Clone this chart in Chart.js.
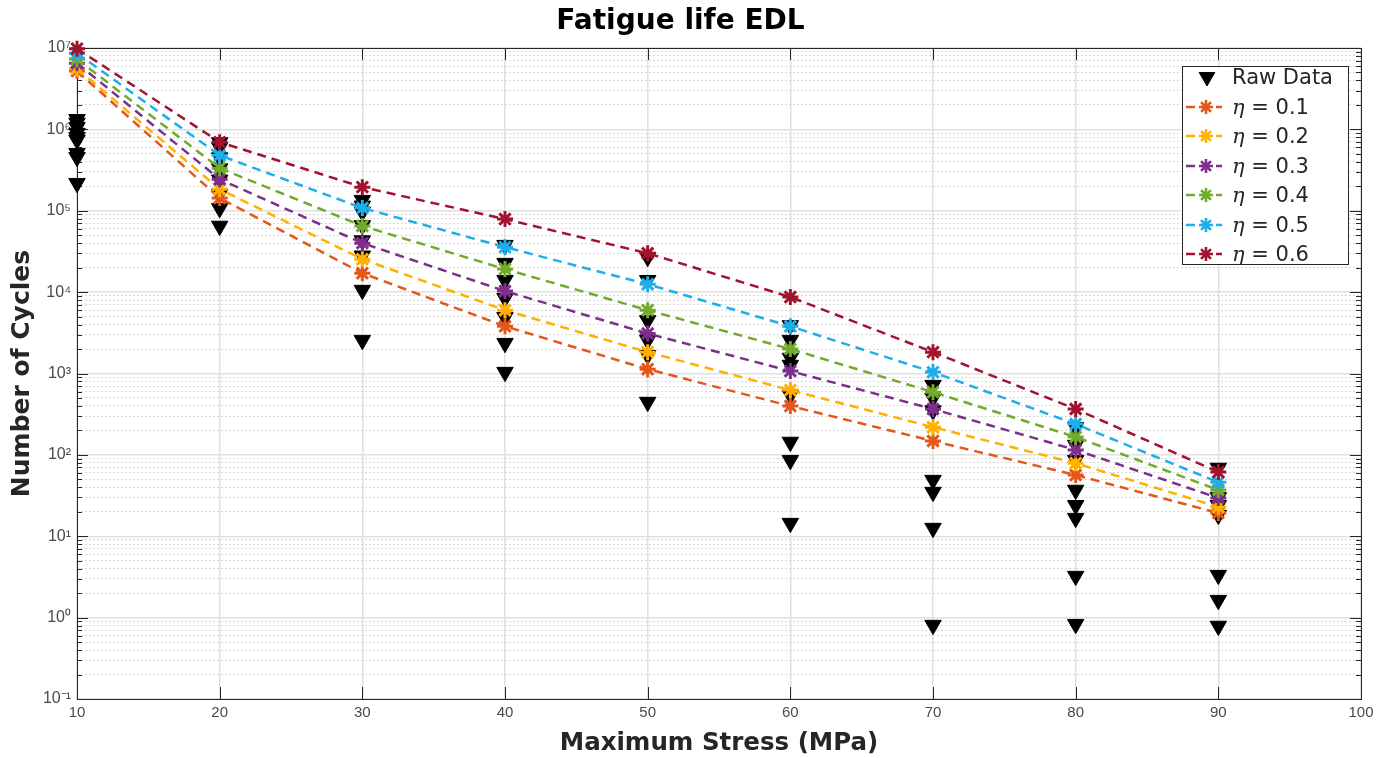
<!DOCTYPE html>
<html>
<head>
<meta charset="utf-8">
<script src="https://cdn.jsdelivr.net/npm/chart.js@4.4.1/dist/chart.umd.min.js"></script>
<style>
html,body{margin:0;padding:0;background:#fff;}
#wrap{position:relative;width:1388px;height:758px;overflow:hidden;}
#legend{position:absolute;left:1182px;top:66px;width:167px;height:199px;border:1px solid #262626;background:#fff;box-sizing:border-box;font-family:'DejaVu Sans',sans-serif;font-size:21px;color:#262626;}
.item{position:absolute;left:0;height:28px;display:flex;align-items:center;white-space:nowrap;}
.item canvas{display:block;margin-left:1px;margin-right:8px;}
.eta{font-family:'DejaVu Serif',serif;font-style:italic;}
</style>
</head>
<body>
<div id="wrap">
<canvas id="c" width="1388" height="758"></canvas>
<div id="legend"></div>
</div>
<script>
// ---------- data ----------
const stress = [10, 20, 30, 40, 50, 60, 70, 80, 90];

const eta01 = [5.2e6, 1.43e5, 1.71e4, 3.8e3, 1.13e3, 398, 148, 56.5, 19.3];
const eta02 = [5.6e6, 1.84e5, 2.54e4, 6.0e3, 1.83e3, 625, 219, 79, 22.9];
const eta03 = [6.5e6, 2.44e5, 4.0e4, 1.03e4, 3.1e3, 1.07e3, 366, 115, 29.5];
const eta04 = [7.3e6, 3.34e5, 6.5e4, 1.92e4, 6.0e3, 2.0e3, 590, 166, 37];
const eta05 = [8.6e6, 4.8e5, 1.08e5, 3.57e4, 1.25e4, 3.8e3, 1.04e3, 239, 46];
const eta06 = [9.8e6, 6.97e5, 1.95e5, 7.9e4, 3.0e4, 8.7e3, 1.83e3, 366, 61.5];

const raw10 = [1.33e6, 1.2e6, 1.06e6, 9.0e5, 8.0e5, 7.4e5, 5.1e5, 4.55e5, 2.18e5];
const raw20 = [6.9e5, 6.0e5, 4.5e5, 3.3e5, 2.4e5, 1.6e5, 1.07e5, 6.5e4];
const raw30 = [1.35e5, 1.15e5, 9.7e4, 6.6e4, 4.3e4, 2.8e4, 1.06e4, 2.57e3];
const raw40 = [3.78e4, 2.27e4, 1.4e4, 8.4e3, 4.9e3, 2.36e3, 1.04e3];
const raw50 = [2.69e4, 1.4e4, 4.5e3, 2.57e3, 1.68e3, 446];
const raw60 = [3.9e3, 2.57e3, 1.55e3, 1.27e3, 543, 144, 86, 14.5];
const raw70 = [720, 500, 350, 49, 34.9, 12.6, 0.81];
const raw80 = [219, 132, 86, 37, 24, 16.7, 3.24, 0.83];
const raw90 = [69, 30, 24, 18.2, 3.33, 1.64, 0.79];

const etaLabels = ['η = 0.1', 'η = 0.2', 'η = 0.3', 'η = 0.4', 'η = 0.5', 'η = 0.6'];
const xTicks = [10, 20, 30, 40, 50, 60, 70, 80, 90, 100];

// ---------- styles ----------
const etaColors = ['#E2581A', '#FFB000', '#7E2F8E', '#72AA2C', '#1EAEEA', '#A3132E'];

const etaSeries = [eta01, eta02, eta03, eta04, eta05, eta06];
const rawGroups = [raw10, raw20, raw30, raw40, raw50, raw60, raw70, raw80, raw90];

const rawPoints = [];
rawGroups.forEach((g, i) => g.forEach(v => rawPoints.push({x: stress[i], y: v})));

const datasets = [{
  label: 'Raw Data',
  data: rawPoints,
  showLine: false,
  pointStyle: 'triangle',
  rotation: 180,
  pointRadius: 9.5,
  pointBorderWidth: 1,
  backgroundColor: '#000',
  borderColor: '#000',
  order: 10,
  clip: false
}];
etaSeries.forEach((arr, k) => {
  datasets.push({
    label: etaLabels[k],
    data: stress.map((s, i) => ({x: s, y: arr[i]})),
    showLine: true,
    borderColor: etaColors[k],
    backgroundColor: etaColors[k],
    borderWidth: 2.5,
    borderDash: [9, 6],
    pointStyle: 'star',
    pointRadius: 8,
    pointBorderWidth: 3,
    pointBorderColor: etaColors[k],
    tension: 0,
    fill: false,
    order: 6 - k,
    clip: false
  });
});

function isDecade(v) {
  const l = Math.log10(v);
  return Math.abs(l - Math.round(l)) < 1e-9;
}
const sup = {'-': '⁻', '0': '⁰', '1': '¹', '2': '²', '3': '³', '4': '⁴', '5': '⁵', '6': '⁶', '7': '⁷', '8': '⁸', '9': '⁹'};
function decLabel(v) {
  const e = String(Math.round(Math.log10(v)));
  return '10' + e.split('').map(c => sup[c]).join('');
}

// axes box with inward ticks (MATLAB style)
const boxPlugin = {
  id: 'boxPlugin',
  beforeDatasetsDraw(chart) {
    const {ctx, chartArea: a, scales: {x, y}} = chart;
    ctx.save();
    ctx.strokeStyle = '#262626';
    ctx.lineWidth = 1;
    ctx.beginPath();
    y.ticks.forEach(t => {
      const py = Math.round(y.getPixelForValue(t.value)) + 0.5;
      const len = isDecade(t.value) ? 11 : 5;
      ctx.moveTo(a.left, py); ctx.lineTo(a.left + len, py);
      ctx.moveTo(a.right, py); ctx.lineTo(a.right - len, py);
    });
    x.ticks.forEach(t => {
      const px = Math.round(x.getPixelForValue(t.value)) + 0.5;
      ctx.moveTo(px, a.bottom); ctx.lineTo(px, a.bottom - 12);
      ctx.moveTo(px, a.top); ctx.lineTo(px, a.top + 12);
    });
    ctx.stroke();
    ctx.strokeRect(Math.round(a.left) + 0.5, Math.round(a.top) + 0.5, Math.round(a.right - a.left), Math.round(a.bottom - a.top));
    ctx.restore();
  }
};

const chart = new Chart(document.getElementById('c'), {
  type: 'scatter',
  data: {datasets},
  plugins: [boxPlugin],
  options: {
    responsive: false,
    animation: false,
    devicePixelRatio: 1,
    layout: {padding: {left: 0, right: 27, top: 0, bottom: 0}},
    plugins: {
      legend: {display: false},
      tooltip: {enabled: false},
      title: {
        display: true,
        text: 'Fatigue life EDL',
        color: '#000',
        font: {family: 'DejaVu Sans', size: 28, weight: 'bold'},
        padding: {top: 5, bottom: 9.4}
      }
    },
    scales: {
      x: {
        type: 'linear',
        min: 10, max: 100,
        afterBuildTicks(s) { s.ticks = xTicks.map(v => ({value: v})); },
        afterFit(s) { s.height = 59; },
        ticks: {color: '#4a4a4a', font: {family: 'Liberation Sans', size: 15}, padding: 5, maxRotation: 0, autoSkip: false},
        grid: {color: '#e0e0e0', lineWidth: 1.5, drawTicks: false},
        border: {display: false},
        title: {display: true, text: 'Maximum Stress (MPa)', color: '#262626',
          font: {family: 'DejaVu Sans', size: 24.5, weight: 'bold'}, padding: {top: 0, bottom: 0}}
      },
      y: {
        type: 'logarithmic',
        min: 0.1, max: 1e7,
        afterBuildTicks(s) {
          const t = [];
          for (let e = -1; e < 7; e++) {
            for (let m = 1; m < 10; m++) t.push({value: Number((m * Math.pow(10, e)).toPrecision(12))});
          }
          t.push({value: 1e7});
          s.ticks = t;
        },
        afterFit(s) { s.width = 77; },
        ticks: {
          color: '#4a4a4a',
          font: {family: 'Liberation Sans', size: 16},
          padding: 6,
          autoSkip: false,
          callback: (v) => isDecade(v) ? decLabel(v) : ''
        },
        grid: {
          drawTicks: false,
          color: (c) => (c.tick && isDecade(c.tick.value)) ? '#e0e0e0' : '#d8d8d8',
          lineWidth: (c) => (c.tick && isDecade(c.tick.value)) ? 1.5 : 1
        },
        border: {
          display: false,
          dash: (c) => (c.tick && isDecade(c.tick.value)) ? [] : [2, 2]
        },
        title: {display: true, text: 'Number of Cycles', color: '#262626',
          font: {family: 'DejaVu Sans', size: 25, weight: 'bold'}, padding: {top: 7, bottom: 0}}
      }
    }
  }
});

// ---------- legend (HTML, built from chart datasets) ----------
const legendEl = document.getElementById('legend');
chart.data.datasets.forEach((ds, i) => {
  const item = document.createElement('div');
  item.className = 'item';
  item.style.top = (-4 + i * 29.4 + (i > 0 ? 0.6 : 0)) + 'px';
  const cv = document.createElement('canvas');
  cv.width = 40; cv.height = 28;
  const g = cv.getContext('2d');
  if (ds.showLine) {
    g.strokeStyle = ds.borderColor;
    g.lineWidth = 2.5;
    g.setLineDash([9, 6]);
    g.beginPath(); g.moveTo(2, 14); g.lineTo(38, 14); g.stroke();
    g.setLineDash([]);
    g.lineWidth = 2.6;
    Chart.helpers.drawPoint(g, {pointStyle: 'star', radius: 7, rotation: 0, borderWidth: 2.6}, 22, 14);
  } else {
    g.fillStyle = ds.backgroundColor;
    g.strokeStyle = ds.borderColor;
    g.lineWidth = 1;
    Chart.helpers.drawPoint(g, {pointStyle: 'triangle', radius: 9, rotation: 180, borderWidth: 1}, 23, 14);
  }
  item.appendChild(cv);
  const txt = document.createElement('span');
  if (ds.label.startsWith('η')) {
    const e = document.createElement('span');
    e.className = 'eta';
    e.textContent = 'η';
    txt.appendChild(e);
    txt.appendChild(document.createTextNode(ds.label.slice(1)));
  } else {
    txt.textContent = ds.label;
  }
  item.appendChild(txt);
  legendEl.appendChild(item);
});
</script>
</body>
</html>
